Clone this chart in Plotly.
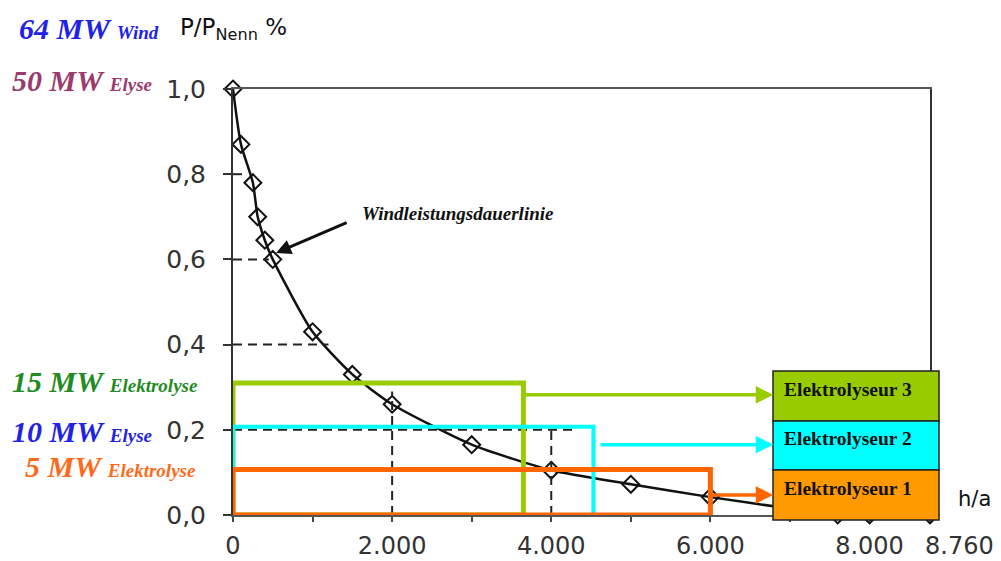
import plotly.graph_objects as go

# ---------------- data ----------------
hours = [0, 100, 250, 310, 400, 500, 1000, 1500, 2000, 3000, 4000, 5000, 6000, 7000, 7600, 8000, 8760]
p_rel = [1.0, 0.87, 0.78, 0.70, 0.645, 0.60, 0.43, 0.33, 0.26, 0.165, 0.105, 0.072, 0.042, 0.015, 0.0, 0.0, 0.0]

x_tick_vals = [0, 1000, 2000, 3000, 4000, 5000, 6000, 7000, 8000, 8760]
x_tick_text = ["0", "", "2.000", "", "4.000", "", "6.000", "", "8.000", ""]
x_end_label = "8.760"
y_tick_vals = [0, 0.2, 0.4, 0.6, 0.8, 1.0]
y_tick_text = ["0,0", "0,2", "0,4", "0,6", "0,8", "1,0"]

# electrolyser operating windows (drawn green, cyan, orange order)
ely_names = ["Elektrolyseur 3", "Elektrolyseur 2", "Elektrolyseur 1"]
ely_hours = [3650, 4530, 6000]
ely_level = [0.31, 0.207, 0.107]
ely_line_colors = ["#99CC00", "#00FFFF", "#FF6600"]
ely_fill_colors = ["#99CC00", "#00FFFF", "#FF9900"]
ely_line_widths = [5, 4, 5]
arrow_start_h = [3650, 4600, 6000]
arrow_level = [0.282, 0.165, 0.047]
arrow_end_h = 6790

# dashed guide lines
hline_levels = [0.8, 0.6, 0.4, 0.2]
hline_ends = [170, 450, 1200, 4300]
vline_hours = [2000, 4000]
vline_tops = [0.29, 0.2]

# left side labels
left_main = ["64 MW", "50 MW", "15 MW", "10 MW", "5 MW"]
left_sub = ["Wind", "Elyse", "Elektrolyse", "Elyse", "Elektrolyse"]
left_colors = ["#2222E6", "#9B3A6B", "#228B22", "#2222E6", "#FF6A1A"]

# ---------------- layout geometry (pixels, page has 8px body margin) ----------------
OFF = 8
VW, VH = 1001, 561
X0PIX, X1PIX, Y1PIX, Y0PIX = 233, 930, 89, 515   # plot area in page pixels
W, H = VW - OFF, VH - OFF
ML, MT = X0PIX - OFF, Y1PIX - OFF
MR, MB = W - (X1PIX - OFF), H - (Y0PIX - OFF)
PW, PH = X1PIX - X0PIX, Y0PIX - Y1PIX


def px(xp):
    return (xp - X0PIX) / PW


def py(yp):
    return (Y0PIX - yp) / PH


fig = go.Figure()

fig.add_trace(go.Scatter(
    x=hours, y=p_rel, mode="lines+markers",
    line=dict(color="#111111", width=2.5, shape="spline", smoothing=0.6),
    marker=dict(symbol="diamond-open", size=13, color="#111111", line=dict(width=2, color="#111111")),
    cliponaxis=False, showlegend=False, hoverinfo="skip",
))

shapes = []
# dashed guides
for lv, xe in zip(hline_levels, hline_ends):
    shapes.append(dict(type="line", xref="x", yref="y", x0=0, x1=xe, y0=lv, y1=lv,
                       line=dict(color="#222222", width=2, dash="9px,6px"), layer="above"))
for xv, yt in zip(vline_hours, vline_tops):
    shapes.append(dict(type="line", xref="x", yref="y", x0=xv, x1=xv, y0=0, y1=yt,
                       line=dict(color="#222222", width=2, dash="9px,6px"), layer="above"))

# electrolyser rectangles
for xh, lv, c, lw in zip(ely_hours, ely_level, ely_line_colors, ely_line_widths):
    shapes.append(dict(type="rect", xref="x", yref="y", x0=0, x1=xh, y0=0, y1=lv,
                       line=dict(color=c, width=lw), fillcolor="rgba(0,0,0,0)", layer="above"))

# legend boxes (paper)
box_tops = [371, 421, 470]
box_bottoms = [421, 470, 520]
for c, t, b in zip(ely_fill_colors, box_tops, box_bottoms):
    shapes.append(dict(type="rect", xref="paper", yref="paper", x0=px(773), x1=px(939), y0=py(b), y1=py(t),
                       line=dict(color="#222222", width=1.5), fillcolor=c, layer="above"))

annotations = []
# arrows from rectangles to legend boxes
for xs, lv, c in zip(arrow_start_h, arrow_level, ely_line_colors):
    annotations.append(dict(x=arrow_end_h, y=lv, ax=xs, ay=lv, xref="x", yref="y", axref="x", ayref="y",
                            text="", showarrow=True, arrowhead=2, arrowsize=1.0, arrowwidth=3.5,
                            arrowcolor=c, standoff=0, startstandoff=0))

# legend text
for name, t, b in zip(ely_names, box_tops, box_bottoms):
    annotations.append(dict(x=px(782), y=py((t + b) / 2 - 7), xref="paper", yref="paper", xanchor="left",
                            yanchor="middle", text=name, showarrow=False,
                            font=dict(family="Liberation Serif, Times New Roman", size=19.5, color="#111111",
                                      weight="bold")))

# curve label + arrow
annotations.append(dict(x=541, y=0.615, ax=1447, ay=0.688, xref="x", yref="y", axref="x", ayref="y",
                        text="", showarrow=True, arrowhead=2, arrowsize=1.0, arrowwidth=3,
                        arrowcolor="#111111", standoff=0, startstandoff=0))
annotations.append(dict(x=px(360), y=py(213), xref="paper", yref="paper", xanchor="left", yanchor="middle",
                        text="Windleistungsdauerlinie", showarrow=False,
                        font=dict(family="Liberation Serif, Times New Roman", size=19, color="#111111",
                                  weight="bold", style="italic")))

# left labels
left_x = [17, 10, 10, 10, 23]
left_y = [28, 81, 381, 431, 466]
for m, s, c, xp, yp in zip(left_main, left_sub, left_colors, left_x, left_y):
    annotations.append(dict(x=px(xp), y=py(yp), xref="paper", yref="paper", xanchor="left", yanchor="middle",
                            text=f"{m} <span style='font-size:19px'>{s}</span>", showarrow=False,
                            font=dict(family="Liberation Serif, Times New Roman", size=30, color=c,
                                      weight="bold", style="italic")))

# axis titles
annotations.append(dict(x=px(178), y=py(29), xref="paper", yref="paper", xanchor="left", yanchor="middle",
                        text="P/P<sub>Nenn</sub> %", showarrow=False,
                        font=dict(family="DejaVu Sans", size=23, color="#111111")))
annotations.append(dict(x=px(974), y=py(499), xref="paper", yref="paper", xanchor="center", yanchor="middle",
                        text="h/a", showarrow=False,
                        font=dict(family="DejaVu Sans", size=21, color="#111111")))
# last x tick label, set slightly right of its tick as in the original
annotations.append(dict(x=x_tick_vals[-1], y=py(546), xref="x", yref="paper", xanchor="left", yanchor="middle",
                        xshift=-7, text=x_end_label, showarrow=False,
                        font=dict(family="DejaVu Sans", size=24, color="#333333")))

fig.update_layout(
    width=W, height=H,
    margin=dict(l=ML, r=MR, t=MT, b=MB, pad=0, autoexpand=False),
    paper_bgcolor="white", plot_bgcolor="white",
    shapes=shapes, annotations=annotations,
    showlegend=False,
)
fig.update_xaxes(range=[0, 8760], tickvals=x_tick_vals, ticktext=x_tick_text, tickangle=0,
                 automargin=False,
                 showgrid=False, zeroline=False, showline=True, mirror=True,
                 linecolor="#555555", linewidth=2, ticks="outside", ticklen=5, tickwidth=1.5,
                 tickcolor="#444444", ticklabelstandoff=3,
                 tickfont=dict(family="DejaVu Sans", size=24, color="#333333"))
fig.update_yaxes(range=[0, 1.0], tickvals=y_tick_vals, ticktext=y_tick_text,
                 automargin=False,
                 showgrid=False, zeroline=False, showline=True, mirror=True,
                 linecolor="#333333", linewidth=2, ticks="outside", ticklen=8, tickwidth=2,
                 tickcolor="#333333", ticklabelstandoff=12,
                 tickfont=dict(family="DejaVu Sans", size=25, color="#333333"))

fig.write_html("out.html")
